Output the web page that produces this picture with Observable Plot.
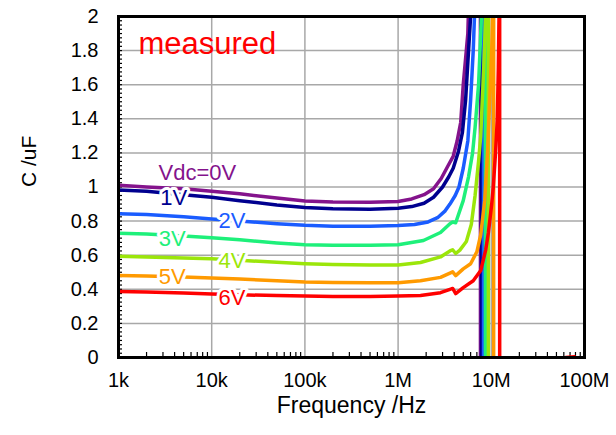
<!DOCTYPE html>
<html>
<head>
<meta charset="utf-8">
<script src="https://cdn.jsdelivr.net/npm/d3@7"></script>
<script src="https://cdn.jsdelivr.net/npm/@observablehq/plot@0.6"></script>
<style>
  html, body { margin: 0; padding: 0; background: white; }
  #chart svg { display: block; }
</style>
</head>
<body>
<div id="chart"></div>
<script>
// ---- data ----
const xTicks = [1e3, 1e4, 1e5, 1e6, 1e7, 1e8];
const xTickLabels = ["1k", "10k", "100k", "1M", "10M", "100M"];
const yTicks = [0, 0.2, 0.4, 0.6, 0.8, 1, 1.2, 1.4, 1.6, 1.8, 2];

const seriesNames = ["Vdc=0V", "1V", "2V", "3V", "4V", "5V", "6V"];
const seriesColors = ["#84138c", "#00008f", "#1a5cff", "#1ef07a", "#9be60a", "#ff9a00", "#ff0000"];

const freqLow = [1e3, 2e3, 5e3, 1e4, 2e4, 5e4, 1e5, 2e5, 5e5, 1e6];
const c0Low = [1.01, 1.0, 0.99, 0.975, 0.96, 0.935, 0.918, 0.912, 0.91, 0.915];
const c1Low = [0.983, 0.975, 0.955, 0.94, 0.92, 0.895, 0.88, 0.873, 0.87, 0.875];
const c2Low = [0.843, 0.838, 0.825, 0.813, 0.8, 0.785, 0.775, 0.77, 0.77, 0.774];
const c3Low = [0.729, 0.724, 0.712, 0.702, 0.69, 0.672, 0.662, 0.658, 0.658, 0.661];
const c4Low = [0.594, 0.59, 0.584, 0.579, 0.57, 0.558, 0.55, 0.545, 0.542, 0.542];
const c5Low = [0.481, 0.478, 0.472, 0.467, 0.46, 0.45, 0.443, 0.44, 0.438, 0.438];
const c6Low = [0.387, 0.384, 0.378, 0.373, 0.368, 0.363, 0.36, 0.358, 0.358, 0.36];

const f0High = [1.4e6, 1.9e6, 2.4e6, 2.9e6, 3.4e6, 3.9e6, 4.3e6, 4.7e6, 5.0e6, 5.6e6, 6.0e6, 7.0e6, 7.6e6, 7.7e6, 1e7, 3e7, 1e8];
const c0High = [0.93, 0.955, 0.99, 1.05, 1.12, 1.18, 1.27, 1.38, 1.6, 1.90, 2.5, 6, 40, -40, -6, -1.5, -0.5];
const f1High = [1.4e6, 1.9e6, 2.4e6, 3.0e6, 3.5e6, 3.9e6, 4.45e6, 4.9e6, 5.3e6, 5.7e6, 6.0e6, 6.6e6, 7.3e6, 7.8e6, 7.9e6, 1e7, 3e7, 1e8];
const c1High = [0.885, 0.905, 0.94, 1.0, 1.06, 1.11, 1.21, 1.32, 1.51, 1.80, 2.0, 3.2, 8, 40, -40, -8, -1.6, -0.5];
const f2High = [1.5e6, 2.1e6, 2.65e6, 3.2e6, 3.6e6, 4.1e6, 4.5e6, 5.0e6, 5.6e6, 6.0e6, 6.4e6, 6.6e6, 7.2e6, 8.0e6, 8.2e6, 8.3e6, 1e7, 3e7, 1e8];
const c2High = [0.78, 0.795, 0.82, 0.86, 0.90, 0.95, 1.0, 1.11, 1.27, 1.51, 1.80, 2.0, 3.5, 10, 40, -40, -10, -1.8, -0.6];
const f3High = [1.87e6, 2.85e6, 3.6e6, 3.85e6, 4.15e6, 5.0e6, 5.7e6, 6.3e6, 6.7e6, 7.3e6, 7.7e6, 7.9e6, 8.3e6, 8.6e6, 8.7e6, 1.2e7, 3e7, 1e8];
const c3High = [0.686, 0.733, 0.785, 0.795, 0.79, 0.92, 1.06, 1.2, 1.35, 1.6, 1.9, 2.05, 4, 40, -40, -6, -1.5, -0.5];
const f4High = [1.74e6, 2.85e6, 3.6e6, 3.85e6, 4.15e6, 4.6e6, 5.4e6, 6.1e6, 6.7e6, 7.3e6, 7.7e6, 8.3e6, 8.7e6, 9.0e6, 9.25e6, 9.35e6, 1.2e7, 3e7, 1e8];
const c4High = [0.557, 0.59, 0.625, 0.632, 0.61, 0.63, 0.68, 0.78, 0.95, 1.15, 1.3, 1.7, 2.0, 3, 40, -40, -6, -1.5, -0.5];
const f5High = [1.74e6, 2.85e6, 3.6e6, 3.85e6, 4.15e6, 5.0e6, 6.0e6, 7.0e6, 7.7e6, 8.5e6, 9.1e6, 9.6e6, 10.1e6, 10.3e6, 10.55e6, 10.65e6, 1.3e7, 3e7, 1e8];
const c5High = [0.45, 0.47, 0.495, 0.502, 0.48, 0.52, 0.55, 0.62, 0.72, 0.92, 1.2, 1.5, 1.8, 2.0, 40, -40, -6, -1.5, -0.5];
const f6High = [1.74e6, 2.85e6, 3.6e6, 3.85e6, 4.15e6, 5.0e6, 6.4e6, 7.7e6, 8.7e6, 9.3e6, 10.1e6, 10.5e6, 11.1e6, 11.6e6, 11.9e6, 12.1e6, 12.25e6, 12.35e6, 2e7, 3.5e7, 5e7, 6.3e7, 7.8e7, 9e7];
const c6High = [0.364, 0.38, 0.40, 0.405, 0.375, 0.41, 0.45, 0.51, 0.63, 0.73, 0.9, 1.0, 1.2, 1.4, 1.7, 2.0, 40, -40, -4, -1, -0.3, 0.0, 0.005, -0.1];

// label anchors (frequency, capacitance) for the series annotations
const labelFreq = [2.69e3, 2.8e3, 1.18e4, 2.7e3, 1.18e4, 2.7e3, 1.18e4];
const labelC = [1.085, 0.933, 0.803, 0.698, 0.569, 0.475, 0.352];

// ---- build ----
const lows = [c0Low, c1Low, c2Low, c3Low, c4Low, c5Low, c6Low];
const highF = [f0High, f1High, f2High, f3High, f4High, f5High, f6High];
const highC = [c0High, c1High, c2High, c3High, c4High, c5High, c6High];

const series = seriesNames.map((name, k) => {
  const pts = freqLow.map((f, i) => ({f, c: lows[k][i]}));
  highF[k].forEach((f, i) => pts.push({f, c: highC[k][i]}));
  return pts;
});

const minorX = [];
for (let e = 3; e < 8; e++) for (let m = 2; m <= 9; m++) minorX.push(m * Math.pow(10, e));
const minorY = d3.range(0, 2.0001, 0.025);
const xLabelMap = new Map(xTicks.map((t, i) => [t, xTickLabels[i]]));

const font = "'Liberation Sans', Arial, sans-serif";

const chart = Plot.plot({
  width: 616,
  height: 435,
  marginLeft: 118,
  marginRight: 32,
  marginTop: 16,
  marginBottom: 78,
  style: {fontFamily: font, background: "white", color: "black"},
  x: {type: "log", domain: [1e3, 1e8]},
  y: {domain: [0, 2]},
  marks: [
    Plot.gridX(xTicks, {stroke: "#a8a8a8", strokeOpacity: 1, strokeWidth: 1.5}),
    Plot.gridY(yTicks, {stroke: "#a8a8a8", strokeOpacity: 1, strokeWidth: 1.5}),
    Plot.axisX(minorX, {tickSize: -5, text: null, strokeWidth: 1.2, label: null}),
    Plot.axisY(minorY, {tickSize: -4, text: null, strokeWidth: 1.2, label: null}),
    Plot.axisX(xTicks, {tickSize: 0, tickPadding: 15, fontSize: 20, tickFormat: d => xLabelMap.get(d), label: null}),
    Plot.axisY(yTicks, {tickSize: 0, tickPadding: 20, fontSize: 20, tickFormat: d => String(+d.toFixed(1)), label: null}),
    ...series.map((pts, k) => Plot.line(pts, {x: "f", y: "c", stroke: seriesColors[k], strokeWidth: 3.5, clip: true})),
    Plot.frame({stroke: "black", strokeWidth: 3}),
    ...seriesNames.map((name, k) => Plot.text([name], {
      x: () => labelFreq[k], y: () => labelC[k], text: d => d,
      textAnchor: "start", fill: seriesColors[k], stroke: "white", strokeWidth: 6,
      fontSize: 22
    })),
    Plot.text(["measured"], {frameAnchor: "top-left", text: d => d, dx: 20, dy: 15, lineAnchor: "top", textAnchor: "start", fill: "#ff0000", fontSize: 31}),
    Plot.text(["C /uF"], {frameAnchor: "left", text: d => d, dx: -89, rotate: -90, fontSize: 21, fill: "black"}),
    Plot.text(["Frequency /Hz"], {frameAnchor: "bottom", text: d => d, dy: 55, fontSize: 23, fill: "black"})
  ]
});
document.getElementById("chart").appendChild(chart);
</script>
</body>
</html>
